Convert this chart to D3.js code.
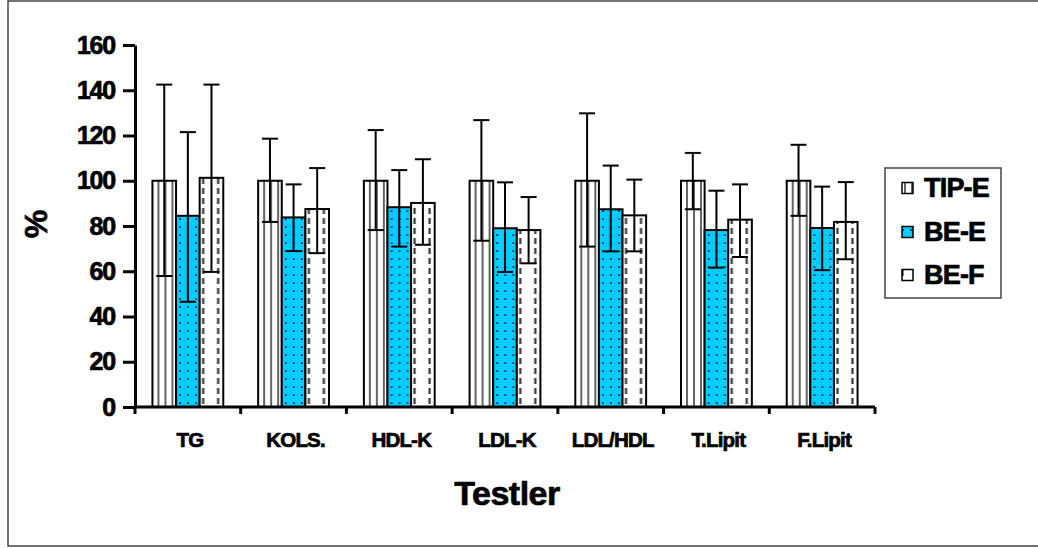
<!DOCTYPE html>
<html><head><meta charset="utf-8">
<script src="https://cdn.jsdelivr.net/npm/d3@7"></script>
<style>body{margin:0;background:#fff}svg{display:block}text{font-family:"Liberation Sans",Arial,sans-serif;font-weight:bold;stroke:#000;stroke-width:0.7px;fill:#000}</style>
</head><body><svg id="c" width="1038" height="548"></svg>
<script>
const categories = ["TG","KOLS.","HDL-K","LDL-K","LDL/HDL","T.Lipit","F.Lipit"];
const seriesNames = ["TIP-E","BE-E","BE-F"];
const tipE    = [100, 100, 100, 100, 100, 100, 100];
const tipEHi  = [142.5, 118.6, 122.4, 126.8, 129.8, 112.3, 115.9];
const tipELo  = [57.9, 81.8, 78.2, 73.5, 70.9, 87.4, 84.5];
const beE     = [84.5, 83.8, 88.3, 79.0, 87.4, 78.2, 79.1];
const beEHi   = [121.5, 98.4, 104.7, 99.3, 106.7, 95.6, 97.4];
const beELo   = [46.5, 68.9, 70.9, 59.7, 68.8, 61.6, 60.5];
const beF     = [101.3, 87.5, 90.2, 78.2, 84.7, 82.8, 81.8];
const beFHi   = [142.5, 105.6, 109.5, 92.8, 100.5, 98.4, 99.4];
const beFLo   = [59.7, 68.0, 71.7, 63.5, 68.8, 66.3, 65.3];
const yTicks  = [0,20,40,60,80,100,120,140,160];

const values = [tipE, beE, beF], his = [tipEHi, beEHi, beFHi], los = [tipELo, beELo, beFLo];
const svg = d3.select("#c");
const defs = svg.append("defs");
const m = {l:135, r:875, t:45, b:407};
const x0 = d3.scaleBand().domain(categories).range([m.l, m.r]).paddingInner(0.33).paddingOuter(0.165);
const x1 = d3.scaleBand().domain(seriesNames).range([0, x0.bandwidth()]);
const y = d3.scaleLinear().domain([0,160]).range([m.b, m.t]);
const cyan = "#00CCFF";

// outer border
svg.append("rect").attr("x",8).attr("y",1).attr("width",1045).attr("height",545)
  .attr("fill","none").attr("stroke","#444").attr("stroke-width",1.5);

function makePattern(id, s, ox, oy){
  if (s===0){
    const p = defs.append("pattern").attr("id",id).attr("patternUnits","userSpaceOnUse")
      .attr("x",ox).attr("y",oy).attr("width",7).attr("height",10);
    p.append("rect").attr("width",7).attr("height",10).attr("fill","#fff");
    p.append("line").attr("x1",6).attr("x2",6).attr("y1",0).attr("y2",10).attr("stroke","#222").attr("stroke-width",1.4);
  } else if (s===1){
    const p = defs.append("pattern").attr("id",id).attr("patternUnits","userSpaceOnUse")
      .attr("x",ox).attr("y",oy).attr("width",8).attr("height",8);
    p.append("rect").attr("width",8).attr("height",8).attr("fill",cyan);
    p.append("rect").attr("x",3.2).attr("y",3.2).attr("width",1.8).attr("height",1.8).attr("fill","#1b2b55");
  } else {
    const p = defs.append("pattern").attr("id",id).attr("patternUnits","userSpaceOnUse")
      .attr("x",ox).attr("y",oy).attr("width",15).attr("height",10);
    p.append("rect").attr("width",15).attr("height",10).attr("fill","#fff");
    p.append("line").attr("x1",3.5).attr("x2",3.5).attr("y1",1).attr("y2",7).attr("stroke","#333").attr("stroke-width",2.2);
  }
}

// bars
categories.forEach((c,i)=>{
  seriesNames.forEach((s,k)=>{
    const bx = x0(c)+x1(s), bw = x1.bandwidth();
    const id = `p${k}_${i}`;
    makePattern(id, k, bx, y(0));
    svg.append("rect").attr("x",bx).attr("y",y(values[k][i])).attr("width",bw)
      .attr("height",y(0)-y(values[k][i])).attr("fill",`url(#${id})`)
      .attr("stroke","#000").attr("stroke-width",2);
  });
});
// error bars
categories.forEach((c,i)=>{
  seriesNames.forEach((s,k)=>{
    const cx = x0(c)+x1(s)+x1.bandwidth()/2;
    const g = svg.append("g").attr("stroke","#000").attr("stroke-width",2);
    g.append("line").attr("x1",cx).attr("x2",cx).attr("y1",y(his[k][i])).attr("y2",y(los[k][i]));
    g.append("line").attr("x1",cx-8).attr("x2",cx+8).attr("y1",y(his[k][i])).attr("y2",y(his[k][i]));
    g.append("line").attr("x1",cx-8).attr("x2",cx+8).attr("y1",y(los[k][i])).attr("y2",y(los[k][i]));
  });
});

// y axis
const ya = svg.append("g").attr("transform",`translate(${m.l},0)`)
  .call(d3.axisLeft(y).tickValues(yTicks).tickSize(12).tickPadding(8).tickSizeOuter(0));
ya.select(".domain").attr("stroke-width",3);
ya.selectAll(".tick line").attr("stroke-width",3);
ya.selectAll(".tick text").attr("font-size",25).attr("font-family","Liberation Sans, Arial, sans-serif")
  .attr("font-weight","bold").attr("fill","#000").attr("letter-spacing",-1.2);

// x axis
const boundaries = categories.map(c=>x0(c)-x0.step()*0.165).concat([m.r]);
const xa = svg.append("g").attr("transform",`translate(0,${m.b})`);
xa.append("line").attr("x1",m.l).attr("x2",m.r).attr("stroke","#000").attr("stroke-width",3);
xa.selectAll("line.t").data(boundaries).join("line").attr("class","t")
  .attr("x1",d=>d).attr("x2",d=>d).attr("y1",0).attr("y2",7).attr("stroke","#000").attr("stroke-width",3);
xa.selectAll("text").data(categories).join("text")
  .attr("x",d=>x0(d)+x0.bandwidth()/2+2).attr("y",40).attr("text-anchor","middle")
  .attr("font-size",20.5).attr("letter-spacing",-0.8).text(d=>d);

// axis titles
svg.append("text").attr("x",507).attr("y",505).attr("text-anchor","middle").attr("font-size",34).attr("letter-spacing",-0.5).text("Testler");
svg.append("text").attr("transform","translate(47,224) rotate(-90)").attr("text-anchor","middle").attr("font-size",32).text("%");

// legend
const lg = svg.append("g");
lg.append("rect").attr("x",885).attr("y",168).attr("width",116).attr("height",130)
  .attr("fill","#fff").attr("stroke","#444").attr("stroke-width",1.5);
const ly = [188, 232, 275];
seriesNames.forEach((s,k)=>{
  const id = `lp${k}`;
  makePattern(id, k, 899, ly[k]-6);
  lg.append("rect").attr("x",902).attr("y",ly[k]-5.5).attr("width",11).attr("height",11)
    .attr("fill",`url(#${id})`).attr("stroke","#000").attr("stroke-width",1.5);
  lg.append("text").attr("x",924).attr("y",ly[k]+9).attr("font-size",27).attr("letter-spacing",-0.8).text(s);
});
</script></body></html>
